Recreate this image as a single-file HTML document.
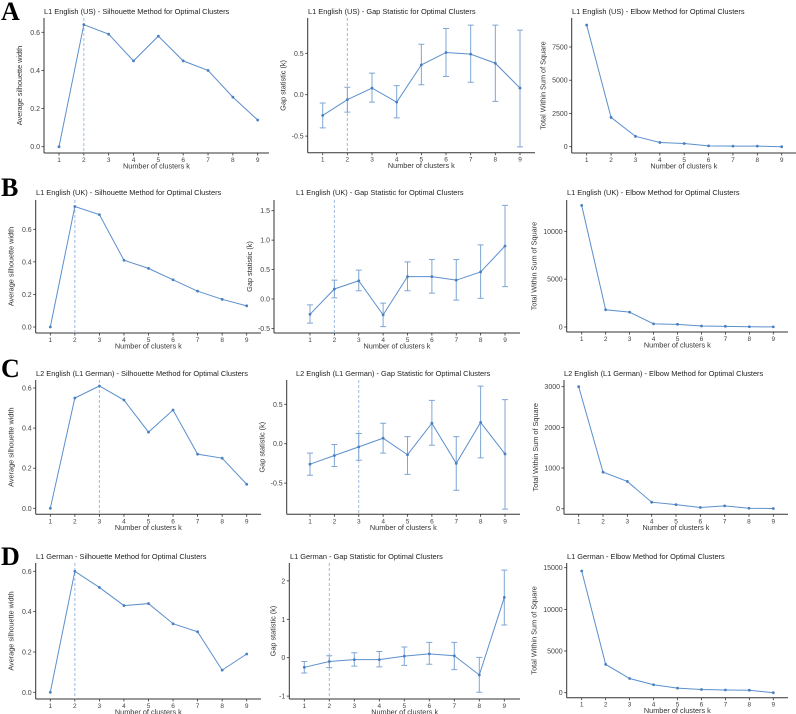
<!DOCTYPE html>
<html><head><meta charset="utf-8"><style>
body{margin:0;background:#fff;}
svg{display:block;font-family:"Liberation Sans",sans-serif;}
</style></head><body>
<svg id="fig" width="796" height="714" viewBox="0 0 796 714">
<text x="1" y="20" font-family="Liberation Serif" font-weight="bold" font-size="26">A</text>
<text x="1" y="196" font-family="Liberation Serif" font-weight="bold" font-size="26">B</text>
<text x="1" y="377" font-family="Liberation Serif" font-weight="bold" font-size="26">C</text>
<text x="1" y="565" font-family="Liberation Serif" font-weight="bold" font-size="26">D</text>
</svg>
<script>
const ks=[1,2,3,4,5,6,7,8,9];
// Silhouette values
const silA=[0,0.64,0.59,0.45,0.58,0.45,0.40,0.26,0.14];
const silB=[0,0.74,0.69,0.41,0.36,0.29,0.22,0.17,0.13];
const silC=[0,0.55,0.61,0.54,0.38,0.49,0.27,0.25,0.12];
const silD=[0,0.60,0.52,0.43,0.44,0.34,0.30,0.11,0.19];
// Gap statistic values with error bounds
const gapA=[-0.25,-0.06,0.08,-0.09,0.36,0.51,0.49,0.38,0.08];
const gapAlo=[-0.40,-0.21,-0.09,-0.28,0.12,0.22,0.15,-0.08,-0.63];
const gapAhi=[-0.10,0.09,0.26,0.11,0.61,0.80,0.84,0.84,0.78];
const gapB=[-0.26,0.17,0.31,-0.27,0.38,0.38,0.32,0.46,0.90];
const gapBlo=[-0.41,0.02,0.14,-0.47,0.14,0.10,-0.02,0.01,0.21];
const gapBhi=[-0.10,0.32,0.49,-0.07,0.63,0.67,0.67,0.92,1.59];
const gapC=[-0.26,-0.15,-0.04,0.07,-0.14,0.26,-0.25,0.27,-0.13];
const gapClo=[-0.40,-0.29,-0.21,-0.12,-0.39,-0.02,-0.59,-0.18,-0.83];
const gapChi=[-0.12,-0.01,0.13,0.26,0.09,0.55,0.09,0.73,0.56];
const gapD=[-0.25,-0.10,-0.05,-0.05,0.04,0.10,0.05,-0.45,1.57];
const gapDlo=[-0.40,-0.26,-0.22,-0.24,-0.20,-0.17,-0.31,-0.90,0.85];
const gapDhi=[-0.10,0.05,0.13,0.16,0.28,0.40,0.40,0.01,2.28];
// Elbow (total within sum of squares)
const wssA=[9150,2200,780,320,240,60,40,40,0];
const wssB=[12700,1800,1550,330,280,100,70,30,10];
const wssC=[3000,900,670,160,100,30,70,10,5];
const wssD=[14600,3400,1700,950,550,380,320,300,0];
// Tick labels
const ticksSil=[0,0.2,0.4,0.6];
const ticksGapA=[-0.5,0,0.5];
const ticksGapB=[-0.5,0,0.5,1,1.5];
const ticksGapC=[-0.5,0,0.5];
const ticksGapD=[-1,0,1,2];
const ticksWssA=[0,2500,5000,7500];
const ticksWssB=[0,5000,10000];
const ticksWssC=[0,1000,2000,3000];
const ticksWssD=[0,5000,10000,15000];

const NS="http://www.w3.org/2000/svg";
const svg=document.getElementById('fig');
function el(tag,attrs,parent){const e=document.createElementNS(NS,tag);for(const a in attrs)e.setAttribute(a,attrs[a]);(parent||svg).appendChild(e);return e;}

const panels=[
 {id:'a-sil',title:'L1 English (US) - Silhouette Method for Optimal Clusters',tx:44,ty:14,ylab:'Average silhouette width',ax:44,top:18,bot:153,right:269,k1:59,k9:257.7,v0:0,p0:146.7,v1:0.6,p1:32.3,vals:silA,ticks:ticksSil,fmt:v=>v.toFixed(1),opt:2},
 {id:'a-gap',title:'L1 English (US) - Gap Statistic for Optimal Clusters',tx:308,ty:14,ylab:'Gap statistic (k)',ax:307.7,top:18,bot:152.7,right:535,k1:322.7,k9:520,v0:0,p0:94.7,v1:0.5,p1:53.3,vals:gapA,lo:gapAlo,hi:gapAhi,ticks:ticksGapA,fmt:v=>v.toFixed(1),opt:2},
 {id:'a-elbow',title:'L1 English (US) - Elbow Method for Optimal Clusters',tx:572,ty:14,ylab:'Total Within Sum of Square',ax:571.7,top:18,bot:153,right:796,k1:586.7,k9:781.7,v0:0,p0:146.7,v1:7500,p1:47,vals:wssA,ticks:ticksWssA,fmt:v=>String(v)},
 {id:'b-sil',title:'L1 English (UK) - Silhouette Method for Optimal Clusters',tx:36,ty:195,ylab:'Average silhouette width',ax:35.7,top:200,bot:333,right:261,k1:50.3,k9:246.7,v0:0,p0:327,v1:0.6,p1:229.3,vals:silB,ticks:ticksSil,fmt:v=>v.toFixed(1),opt:2},
 {id:'b-gap',title:'L1 English (UK) - Gap Statistic for Optimal Clusters',tx:296,ty:195,ylab:'Gap statistic (k)',ax:274,top:200,bot:333,right:520,k1:310,k9:505,v0:0,p0:299,v1:1.5,p1:210.7,vals:gapB,lo:gapBlo,hi:gapBhi,ticks:ticksGapB,fmt:v=>v.toFixed(1),opt:2},
 {id:'b-elbow',title:'L1 English (UK) - Elbow Method for Optimal Clusters',tx:567,ty:195,ylab:'Total Within Sum of Square',ax:566.7,top:200,bot:332,right:788,k1:581.7,k9:773.3,v0:0,p0:327,v1:10000,p1:231.3,vals:wssB,ticks:ticksWssB,fmt:v=>String(v)},
 {id:'c-sil',title:'L2 English (L1 German) - Silhouette Method for Optimal Clusters',tx:36,ty:376,ylab:'Average silhouette width',ax:35.7,top:380,bot:514.3,right:261,k1:50.3,k9:246.7,v0:0,p0:508.3,v1:0.6,p1:388,vals:silC,ticks:ticksSil,fmt:v=>v.toFixed(1),opt:3},
 {id:'c-gap',title:'L2 English (L1 German) - Gap Statistic for Optimal Clusters',tx:296,ty:376,ylab:'Gap statistic (k)',ax:286.7,top:380,bot:514.3,right:520,k1:310,k9:505,v0:0,p0:443.7,v1:0.5,p1:404.3,vals:gapC,lo:gapClo,hi:gapChi,ticks:ticksGapC,fmt:v=>v.toFixed(1),opt:3},
 {id:'c-elbow',title:'L2 English (L1 German) - Elbow Method for Optimal Clusters',tx:564,ty:376,ylab:'Total Within Sum of Square',ax:564,top:380,bot:514.3,right:788,k1:578.7,k9:773.3,v0:0,p0:508.7,v1:3000,p1:386.7,vals:wssC,ticks:ticksWssC,fmt:v=>String(v)},
 {id:'d-sil',title:'L1 German - Silhouette Method for Optimal Clusters',tx:36,ty:559,ylab:'Average silhouette width',ax:35.7,top:563,bot:699,right:261,k1:50.3,k9:246.7,v0:0,p0:692.3,v1:0.6,p1:571.3,vals:silD,ticks:ticksSil,fmt:v=>v.toFixed(1),opt:2},
 {id:'d-gap',title:'L1 German - Gap Statistic for Optimal Clusters',tx:290,ty:559,ylab:'Gap statistic (k)',ax:289.3,top:563,bot:699,right:520,k1:304.3,k9:504.3,v0:0,p0:657.7,v1:1,p1:619.3,vals:gapD,lo:gapDlo,hi:gapDhi,ticks:ticksGapD,fmt:v=>String(v),opt:2},
 {id:'d-elbow',title:'L1 German - Elbow Method for Optimal Clusters',tx:567,ty:559,ylab:'Total Within Sum of Square',ax:566.7,top:563,bot:697.7,right:788,k1:581.7,k9:773.3,v0:0,p0:692.7,v1:15000,p1:567.7,vals:wssD,ticks:ticksWssD,fmt:v=>String(v)}
];

panels.forEach(p=>{
 const g=el('g',{});
 
 
 const X=k=>p.k1+(k-1)*(p.k9-p.k1)/8;
 const Y=v=>p.p0+(v-p.v0)*(p.p1-p.p0)/(p.v1-p.v0);
 const t=el('text',{x:p.tx,y:p.ty,'font-size':'7.4',fill:'#222'},g);
 t.textContent=p.title;
 
 
 const ya=el('line',{x1:p.ax,y1:p.top,x2:p.ax,y2:p.bot,stroke:'#333','stroke-width':1},g);
 
 
 const xa=el('line',{x1:p.ax,y1:p.bot,x2:p.right,y2:p.bot,stroke:'#333','stroke-width':1},g);
 
 
 p.ticks.forEach(v=>{
  const y=Y(v);
  el('line',{x1:p.ax-2.5,y1:y,x2:p.ax,y2:y,stroke:'#333','stroke-width':0.8},g);
  const tl=el('text',{x:p.ax-4,y:y+2.5,'font-size':'7','text-anchor':'end',fill:'#444'},g);
  tl.textContent=p.fmt(v);
  
  
 });
 ks.forEach(k=>{
  const x=X(k);
  el('line',{x1:x,y1:p.bot,x2:x,y2:p.bot+2.5,stroke:'#333','stroke-width':0.8},g);
  const tl=el('text',{x:x,y:p.bot+9,'font-size':'6.5','text-anchor':'middle',fill:'#444'},g);
  tl.textContent=String(k);
  
  
 });
 const xl=el('text',{x:(p.ax+p.right)/2,y:p.bot+15.5,'font-size':'7.3','text-anchor':'middle',fill:'#333'},g);
 xl.textContent='Number of clusters k';
 
 
 const cy=(p.top+p.bot)/2, lx=p.ax-(p.fmt(p.ticks[p.ticks.length-1]).length*4+10);
 const yl=el('text',{x:lx,y:cy,'font-size':'7.3','text-anchor':'middle',fill:'#333',transform:'rotate(-90 '+lx+' '+cy+')'},g);
 yl.textContent=p.ylab;
 
 
 if(p.opt){
  const dl=el('line',{x1:X(p.opt),y1:p.top,x2:X(p.opt),y2:p.bot,stroke:'#9dbbe0','stroke-width':1,'stroke-dasharray':'3,2'},g);
  
  
 }
 if(p.lo){
  ks.forEach((k,i)=>{
   const x=X(k);
   const eb=el('path',{d:`M${x-3},${Y(p.lo[i])}H${x+3}M${x},${Y(p.lo[i])}V${Y(p.hi[i])}M${x-3},${Y(p.hi[i])}H${x+3}`,stroke:'#7fa6d4','stroke-width':1,fill:'none'},g);
   
   
  });
 }
 const pts=ks.map((k,i)=>X(k)+','+Y(p.vals[i])).join(' ');
 const pl=el('polyline',{points:pts,fill:'none',stroke:'#5b8fcc','stroke-width':1},g);
 
 
 ks.forEach((k,i)=>{
  const c=el('circle',{cx:X(k),cy:Y(p.vals[i]),r:1.4,fill:'#4a7fc0'},g);
  
  
 });
});
</script>
</body></html>
